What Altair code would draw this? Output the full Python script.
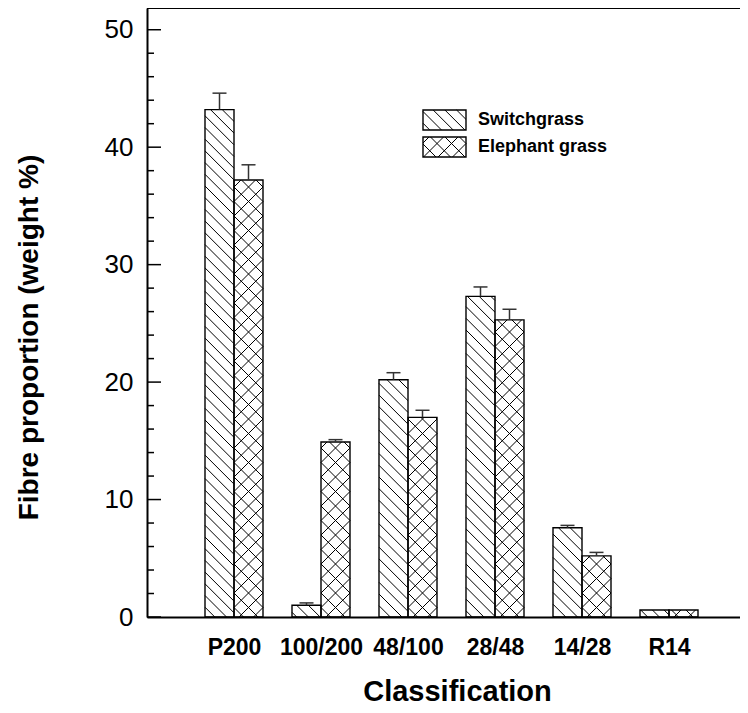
import math
import json
import altair as alt
import pandas as pd

# ---------------- data ----------------
categories = ["P200", "100/200", "48/100", "28/48", "14/28", "R14"]
switch_vals = [43.2, 1.0, 20.2, 27.3, 7.6, 0.6]
switch_err = [1.4, 0.2, 0.6, 0.8, 0.2, 0.0]
eleph_vals = [37.2, 14.9, 17.0, 25.3, 5.2, 0.6]
eleph_err = [1.3, 0.2, 0.6, 0.9, 0.3, 0.0]
series_names = ["Switchgrass", "Elephant grass"]
y_major = [0, 10, 20, 30, 40, 50]
y_minor = [v for v in range(2, 50, 2) if v % 10 != 0]

# ---------------- layout ----------------
W, H = 593, 609
PXX = 87.0
XMAX = W / PXX
YMAX = 51.85
PXY = H / YMAX
HALF = 1 / 3
CAP = 7 / PXX
FONT = "Liberation Sans"


def to_data(xp, yp):
    return xp / PXX, (H - yp) / PXY


def hatch(px0, px1, py0, py1, s, direction, phase=0.0):
    out = []
    if direction == "back":
        cmin, cmax = py0 - px1, py1 - px0
        k0 = math.ceil((cmin - phase) / s)
        k1 = math.floor((cmax - phase) / s)
        for k in range(k0, k1 + 1):
            c = phase + k * s
            xa, xb = max(px0, py0 - c), min(px1, py1 - c)
            if xb - xa > 0.4:
                out.append((xa, xa + c, xb, xb + c))
    else:
        cmin, cmax = px0 + py0, px1 + py1
        k0 = math.ceil((cmin - phase) / s)
        k1 = math.floor((cmax - phase) / s)
        for k in range(k0, k1 + 1):
            c = phase + k * s
            xa, xb = max(px0, c - py1), min(px1, c - py0)
            if xb - xa > 0.4:
                out.append((xa, c - xa, xb, c - xb))
    return out


def hatch_rows(x0, x1, y0, y1, kind):
    px0, px1 = x0 * PXX, x1 * PXX
    py0, py1 = H - y1 * PXY, H - y0 * PXY
    segs = []
    if kind == "switch":
        segs += hatch(px0, px1, py0, py1, 11.7, "back", 3.0)
    else:
        segs += hatch(px0, px1, py0, py1, 14.5, "back", 5.0)
        segs += hatch(px0, px1, py0, py1, 14.5, "fwd", 5.0)
    rows = []
    for xa, ya, xb, yb in segs:
        dx1, dy1 = to_data(xa, ya)
        dx2, dy2 = to_data(xb, yb)
        rows.append({"x": dx1, "y": dy1, "x2": dx2, "y2": dy2})
    return rows


bar_rows = []
for i, cat in enumerate(categories):
    c = i + 1
    bar_rows.append({"cat": cat, "series": series_names[0], "kind": "switch",
                     "x0": c - HALF, "x1": c, "v": switch_vals[i], "err": switch_err[i]})
    bar_rows.append({"cat": cat, "series": series_names[1], "kind": "eleph",
                     "x0": c, "x1": c + HALF, "v": eleph_vals[i], "err": eleph_err[i]})
bars = pd.DataFrame(bar_rows)
bars["y0"] = 0.0
bars["xc"] = (bars["x0"] + bars["x1"]) / 2
bars["top"] = bars["v"] + bars["err"]
bars["cl"] = bars["xc"] - CAP
bars["cr"] = bars["xc"] + CAP
errs = bars[bars["err"] > 0].copy()

leg_px = [(276, 319, 102, 122), (276, 319, 129, 149)]
leg_rows = []
leg_text = []
for (lx0, lx1, ly0, ly1), name, kind in zip(leg_px, series_names, ["switch", "eleph"]):
    dx0, dy1 = to_data(lx0, ly0)
    dx1, dy0 = to_data(lx1, ly1)
    leg_rows.append({"series": name, "kind": kind, "x0": dx0, "x1": dx1, "y0": dy0, "y1": dy1})
    tx, ty = to_data(331, (ly0 + ly1) / 2)
    leg_text.append({"label": name, "x": tx, "y": ty})
legend_boxes = pd.DataFrame(leg_rows)
legend_text = pd.DataFrame(leg_text)

hrows = []
for _, r in bars.iterrows():
    hrows += hatch_rows(r["x0"], r["x1"], 0.0, r["v"], r["kind"])
for _, r in legend_boxes.iterrows():
    hrows += hatch_rows(r["x0"], r["x1"], r["y0"], r["y1"], r["kind"])
hatch_df = pd.DataFrame(hrows)

tick_rows = []
for v in y_major:
    tick_rows.append({"tx": 0.0, "tx2": 14 / PXX, "ty": float(v), "ty2": float(v)})
for v in y_minor:
    tick_rows.append({"tx": 0.0, "tx2": 7 / PXX, "ty": float(v), "ty2": float(v)})
ticks_df = pd.DataFrame(tick_rows)
frame_df = pd.DataFrame([{"fx": 0.0, "fx2": XMAX, "fy": YMAX, "fy2": YMAX}])

xs = alt.Scale(domain=[0, XMAX], nice=False, zero=False)
ys = alt.Scale(domain=[0, YMAX], nice=False, zero=False)

label_expr = json.dumps([""] + categories) + "[datum.value]"
xaxis = alt.Axis(values=list(range(1, len(categories) + 1)), labelExpr=label_expr,
                 ticks=False, tickSize=0, grid=False, domainColor="black", domainWidth=2,
                 labelFont=FONT, labelFontSize=23, labelFontWeight="bold", labelColor="black",
                 labelPadding=19, labelFlush=False, labelOverlap=False,
                 title="Classification", titleFont=FONT, titleFontSize=29,
                 titleFontWeight="bold", titleColor="black", titleX=310, titleY=74,
                 titleAlign="center", titleBaseline="middle")
yaxis = alt.Axis(values=y_major, ticks=False, tickSize=0, grid=False,
                 domainColor="black", domainWidth=2,
                 labelFont=FONT, labelFontSize=26, labelColor="black", labelPadding=14,
                 labelFlush=False, labelOverlap=False,
                 title="Fibre proportion (weight %)", titleFont=FONT, titleFontSize=28,
                 titleFontWeight="bold", titleColor="black", titleX=-118, titleY=329,
                 titleAngle=270, titleAlign="center", titleBaseline="middle")


def X(f):
    return alt.X(f, type="quantitative", scale=xs, axis=xaxis)


def Y(f):
    return alt.Y(f, type="quantitative", scale=ys, axis=yaxis)


hatch_layer = alt.Chart(hatch_df).mark_rule(color="black", strokeWidth=1).encode(
    x=X("x"), y=Y("y"), x2="x2", y2="y2")
bar_layer = alt.Chart(bars).mark_rect(fill="white", fillOpacity=0, stroke="black",
                                      strokeWidth=1.4).encode(
    x=X("x0"), x2="x1", y=Y("y0"), y2="v")
err_line = alt.Chart(errs).mark_rule(color="#333333", strokeWidth=1.5).encode(
    x=X("xc"), y=Y("v"), y2="top")
err_cap = alt.Chart(errs).mark_rule(color="#333333", strokeWidth=1.5).encode(
    x=X("cl"), x2="cr", y=Y("top"))
tick_layer = alt.Chart(ticks_df).mark_rule(color="black", strokeWidth=1.5).encode(
    x=X("tx"), y=Y("ty"), x2="tx2", y2="ty2")
top_layer = alt.Chart(frame_df).mark_rule(color="black", strokeWidth=2).encode(
    x=X("fx"), y=Y("fy"), x2="fx2", y2="fy2")
leg_box_layer = alt.Chart(legend_boxes).mark_rect(fill="white", fillOpacity=0, stroke="black",
                                                  strokeWidth=1.4).encode(
    x=X("x0"), x2="x1", y=Y("y0"), y2="y1")
leg_text_layer = alt.Chart(legend_text).mark_text(
    align="left", baseline="middle", font=FONT, fontSize=18, fontWeight="bold",
    color="black").encode(x=X("x"), y=Y("y"), text="label:N")

chart = alt.layer(
    hatch_layer, bar_layer, err_line, err_cap, tick_layer, top_layer,
    leg_box_layer, leg_text_layer
).properties(
    width=W, height=H,
    autosize=alt.AutoSizeParams(type="none"),
    padding={"left": 139, "top": 0, "right": 0, "bottom": 88},
    background="white",
).configure_view(stroke=None)

chart.save("out.html", embed_options={"renderer": "svg", "actions": False})
